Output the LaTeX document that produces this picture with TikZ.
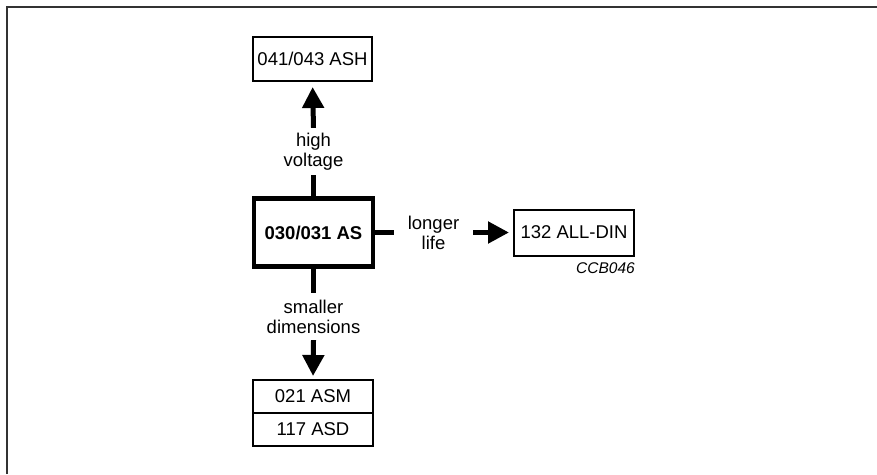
\documentclass[tikz,border=0pt]{standalone}
\usepackage{fontspec}
\setmainfont{Liberation Sans}
\usetikzlibrary{arrows.meta}
\begin{document}
\begin{tikzpicture}[x=1pt,y=-1pt,
  every node/.style={font=\fontsize{18.5}{20}\selectfont},
  thinbox/.style={draw,line width=2pt,inner sep=0pt,minimum width=119pt,minimum height=44pt},
  mainbox/.style={draw,line width=4.5pt,inner sep=0pt,minimum width=119pt,minimum height=68pt,font=\fontsize{18.5}{20}\selectfont\bfseries},
  lbl/.style={inner sep=0pt,align=center},
  stub/.style={line width=5pt},
  arr/.style={line width=5pt,-{Triangle[length=21pt,width=21pt]}},
  frame/.style={draw=black!80,line width=2pt}
]
\useasboundingbox (0,0) rectangle (877,474);
\coordinate (fl) at (7,474);
\coordinate (fc) at (7,7);
\coordinate (fr) at (877,7);
\draw[frame] (fl) -- (fc) -- (fr);

\node[mainbox] (main) at (313.5,232.5) {030/031 AS};
\node[thinbox] (ash) at (312.5,59) {041/043 ASH};
\node[thinbox,minimum width=120pt,minimum height=46pt] (din) at (574,232.5) {132 ALL-DIN};
\node[thinbox,minimum width=120pt,minimum height=33pt] (asm) at (313,396.5) {021 ASM};
\node[thinbox,minimum width=120pt,minimum height=33pt] (asd) at (313,429.5) {117 ASD};

\node[lbl,minimum height=47pt] (hv) at (313.5,151.5) {high\\voltage};
\node[lbl,minimum width=79pt] (ll) at (433.5,232.5) {longer\\life};
\node[lbl,minimum height=47pt] (sd) at (313.5,316.5) {smaller\\dimensions};
\node[anchor=east,inner sep=0pt,font=\fontsize{15.5}{17}\selectfont\itshape] (code) at (635,268) {CCB046};

\draw[stub] (main.north) -- (hv.south);
\draw[arr,shorten >=5pt] (hv.north) -- (ash.south);
\draw[stub] (main.east) -- (ll.west);
\draw[arr,shorten >=4pt] (ll.east) -- (din.west);
\draw[stub] (main.south) -- (sd.north);
\draw[arr,shorten >=3pt] (sd.south) -- (asm.north);
\end{tikzpicture}
\end{document}
